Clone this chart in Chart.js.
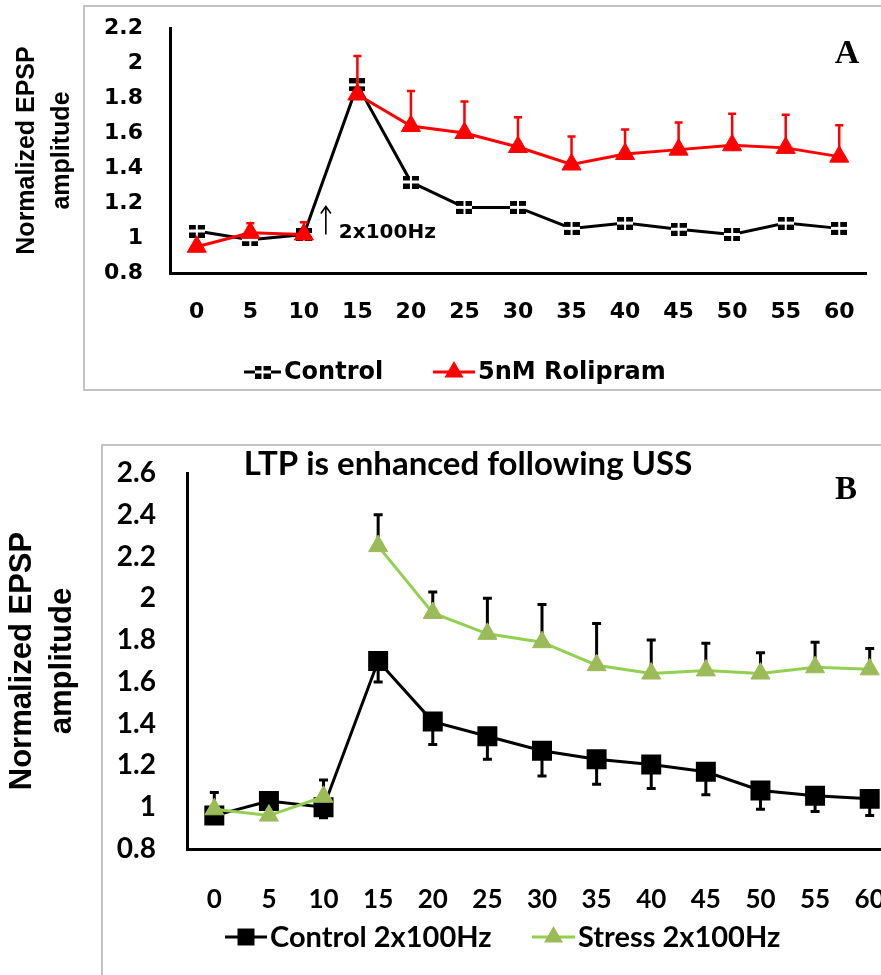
<!DOCTYPE html>
<html>
<head>
<meta charset="utf-8">
<script src="https://cdn.jsdelivr.net/npm/chart.js@4.4.1/dist/chart.umd.min.js"></script>
<style>
	html, body { margin: 0; padding: 0; background: #fff; overflow: hidden; }
	#page { position: relative; width: 881px; height: 975px; overflow: hidden; }
	.box { position: absolute; border: 2px solid #c3c3c3; }
	#boxA { left: 83px; top: 5px; width: 900px; height: 382px; }
	#boxB { left: 101px; top: 444px; width: 900px; height: 600px; }
	#wrapA { position: absolute; left: 0; top: 0; width: 881px; height: 392px; }
	#wrapB { position: absolute; left: 0; top: 445px; width: 936px; height: 530px; }
	canvas { display: block; }
</style>
</head>
<body>
<div id="page">
	<div class="box" id="boxA"></div>
	<div class="box" id="boxB"></div>
	<div id="wrapA"><canvas id="chartA" width="881" height="392"></canvas></div>
	<div id="wrapB"><canvas id="chartB" width="936" height="530"></canvas></div>
</div>
<script>
// time after start (min)
var timeLabels = ['0', '5', '10', '15', '20', '25', '30', '35', '40', '45', '50', '55', '60'];
// 2x100Hz given after this point: treated series are not joined across it
var stimIndex = 2;

// panel A
var controlA = [1.04, 0.99, 1.02, 1.875, 1.32, 1.175, 1.175, 1.055, 1.085, 1.05, 1.02, 1.085, 1.055];
var rolipramA = [0.95, 1.03, 1.02, 1.82, 1.64, 1.60, 1.52, 1.42, 1.48, 1.505, 1.53, 1.515, 1.465];
var rolipramErrA = [0, 0.055, 0.07, 0.22, 0.20, 0.18, 0.17, 0.16, 0.14, 0.155, 0.18, 0.19, 0.18];
var yTicksA = ['0.8', '1', '1.2', '1.4', '1.6', '1.8', '2', '2.2'];

// panel B
var controlB = [0.96, 1.03, 1.00, 1.70, 1.41, 1.34, 1.27, 1.23, 1.205, 1.17, 1.08, 1.055, 1.04];
var controlErrB = [0, 0, 0.05, 0.10, 0.11, 0.11, 0.12, 0.12, 0.115, 0.11, 0.09, 0.075, 0.08];
var stressB = [0.99, 0.96, 1.05, 2.25, 1.93, 1.83, 1.79, 1.68, 1.64, 1.655, 1.64, 1.67, 1.66];
var stressErrB = [0.08, 0, 0.08, 0.15, 0.10, 0.17, 0.18, 0.20, 0.16, 0.13, 0.10, 0.12, 0.10];
var yTicksB = ['0.8', '1', '1.2', '1.4', '1.6', '1.8', '2', '2.2', '2.4', '2.6'];

var FONT_A = 'DejaVu Sans';
var FONT_B = 'Lato';

// excel style "dashed square" marker
function makeDashedSquare() {
	var c = document.createElement('canvas');
	c.width = 16;
	c.height = 13;
	var g = c.getContext('2d');
	g.fillStyle = '#fff';
	g.fillRect(0, 0, 16, 13);
	g.fillStyle = '#000';
	g.fillRect(0, 0, 7, 5);
	g.fillRect(9, 0, 7, 5);
	g.fillRect(0, 8, 7, 5);
	g.fillRect(9, 8, 7, 5);
	return c;
}
var dashedSquare = makeDashedSquare();

function gapAfterStim(c) {
	return c.p0DataIndex === stimIndex ? 'rgba(0,0,0,0)' : undefined;
}

function drawTriangle(ctx, x, y, r, color) {
	var s = Math.sin(Math.PI / 3) * r;
	ctx.fillStyle = color;
	ctx.beginPath();
	ctx.moveTo(x, y - r);
	ctx.lineTo(x + s, y + r / 2);
	ctx.lineTo(x - s, y + r / 2);
	ctx.closePath();
	ctx.fill();
}

function drawMarker(ctx, ds, x, y) {
	if (ds.pointStyle === 'triangle') {
		drawTriangle(ctx, x, y, ds.pointRadius, ds.pointBackgroundColor);
	} else if (ds.pointStyle === 'rect') {
		var h = Math.SQRT1_2 * ds.pointRadius;
		ctx.fillStyle = ds.pointBackgroundColor;
		ctx.fillRect(x - h, y - h, 2 * h, 2 * h);
	} else {
		var img = ds.pointStyle;
		ctx.drawImage(img, x - img.width / 2, y - img.height / 2);
	}
}

// error bars, drawn just before their own dataset
var errorBars = {
	id: 'errorBars',
	beforeDatasetDraw: function(chart, args) {
		var ds = chart.data.datasets[args.index];
		if (!ds.errors) return;
		var ctx = chart.ctx;
		var yScale = chart.scales.y;
		ctx.save();
		ctx.strokeStyle = ds.errorColor;
		ctx.lineWidth = ds.errorWidth;
		args.meta.data.forEach(function(pt, i) {
			var err = ds.errors[i];
			if (!err) return;
			var y0 = yScale.getPixelForValue(ds.data[i]);
			var y1 = yScale.getPixelForValue(ds.data[i] + ds.errorDir * err);
			ctx.beginPath();
			ctx.moveTo(pt.x, y0);
			ctx.lineTo(pt.x, y1);
			ctx.moveTo(pt.x - ds.capHalf, y1);
			ctx.lineTo(pt.x + ds.capHalf, y1);
			ctx.stroke();
		});
		ctx.restore();
	}
};

// legend: line with marker, then label
function legendPlugin(items, font, y) {
	return {
		id: 'lineLegend',
		afterDraw: function(chart) {
			var ctx = chart.ctx;
			ctx.save();
			items.forEach(function(item) {
				var ds = chart.data.datasets[item.index];
				ctx.strokeStyle = ds.borderColor;
				ctx.lineWidth = ds.borderWidth;
				ctx.beginPath();
				ctx.moveTo(item.x0, y);
				ctx.lineTo(item.x1, y);
				ctx.stroke();
				drawMarker(ctx, ds, (item.x0 + item.x1) / 2, y);
				ctx.fillStyle = '#000';
				ctx.font = font;
				ctx.textBaseline = 'middle';
				ctx.textAlign = 'left';
				ctx.fillText(ds.label, item.x1 + 3, y + 1);
			});
			ctx.restore();
		}
	};
}

function baseScales(opts) {
	return {
		x: {
			type: 'category',
			offset: true,
			grid: { display: false, drawTicks: false },
			border: { display: true, color: '#000', width: 3 },
			ticks: {
				color: '#000',
				autoSkip: false,
				maxRotation: 0,
				padding: opts.xPad,
				font: opts.xFont
			},
			afterFit: function(s) {
				s.height = opts.xHeight;
				s.paddingLeft = 0;
				s.paddingRight = 0;
			}
		},
		y: {
			min: 0.8,
			max: opts.yMax,
			grid: { display: false, drawTicks: false },
			border: { display: true, color: '#000', width: 3 },
			ticks: {
				stepSize: 0.2,
				color: '#000',
				padding: opts.yPad,
				font: opts.yFont,
				callback: function(v, i) { return opts.yLabels[i]; }
			},
			title: {
				display: true,
				text: ['Normalized EPSP', 'amplitude'],
				color: '#000',
				font: opts.titleFont,
				padding: { top: opts.titlePad, bottom: 0 }
			},
			afterFit: function(s) {
				s.width = opts.yWidth;
				s.paddingTop = 0;
				s.paddingBottom = 0;
			}
		}
	};
}

var panelA = {
	id: 'panelA',
	afterDraw: function(chart) {
		var ctx = chart.ctx;
		var x = chart.scales.x.getPixelForValue(stimIndex) + 22;
		var yScale = chart.scales.y;
		var yTop = yScale.getPixelForValue(1.18);
		var yBot = yScale.getPixelForValue(1.02);
		ctx.save();
		ctx.strokeStyle = '#000';
		ctx.lineWidth = 1.6;
		ctx.beginPath();
		ctx.moveTo(x, yBot);
		ctx.lineTo(x, yTop);
		ctx.moveTo(x - 5, yTop + 7);
		ctx.lineTo(x, yTop);
		ctx.lineTo(x + 5, yTop + 7);
		ctx.stroke();
		ctx.fillStyle = '#000';
		ctx.textBaseline = 'middle';
		ctx.font = 'bold 20px "' + FONT_A + '"';
		ctx.fillText('2x100Hz', x + 13, yScale.getPixelForValue(1.03));
		ctx.font = 'bold 34px "Liberation Serif"';
		ctx.textAlign = 'center';
		ctx.fillText('A', 847, 54);
		ctx.restore();
	}
};

var panelB = {
	id: 'panelB',
	afterDraw: function(chart) {
		var ctx = chart.ctx;
		ctx.save();
		ctx.fillStyle = '#000';
		ctx.textBaseline = 'middle';
		ctx.textAlign = 'center';
		ctx.font = 'bold 33px "' + FONT_B + '"';
		ctx.fillText('LTP is enhanced following USS', 468, 19);
		ctx.font = 'bold 33px "Liberation Serif"';
		ctx.fillText('B', 846, 45);
		ctx.restore();
	}
};

var chartA = new Chart(document.getElementById('chartA'), {
	type: 'line',
	data: {
		labels: timeLabels,
		datasets: [{
			label: 'Control',
			data: controlA,
			order: 1,
			borderColor: '#000',
			borderWidth: 3,
			pointStyle: dashedSquare,
			pointRadius: 8,
			pointBackgroundColor: '#000',
			tension: 0
		}, {
			label: '5nM Rolipram',
			data: rolipramA,
			order: 0,
			borderColor: '#ff0000',
			borderWidth: 3,
			segment: { borderColor: gapAfterStim },
			pointStyle: 'triangle',
			pointRadius: 11,
			pointBackgroundColor: '#ff0000',
			pointBorderColor: '#ff0000',
			pointBorderWidth: 1,
			tension: 0,
			errors: rolipramErrA,
			errorDir: 1,
			errorColor: '#ff0000',
			errorWidth: 2.5,
			capHalf: 4
		}]
	},
	options: {
		responsive: false,
		animation: false,
		events: [],
		layout: { padding: { top: 28, left: 0, right: 15, bottom: 0 } },
		plugins: { legend: { display: false }, tooltip: { enabled: false } },
		scales: baseScales({
			yMax: 2.2,
			yLabels: yTicksA,
			xPad: 26,
			xHeight: 119,
			yPad: 27,
			yWidth: 170,
			titlePad: 10,
			xFont: { family: FONT_A, size: 22, weight: 'bold' },
			yFont: { family: FONT_A, size: 22, weight: 'bold' },
			titleFont: { family: 'Liberation Sans', size: 25, weight: 'bold', lineHeight: 1.4 }
		})
	},
	plugins: [errorBars, panelA, legendPlugin([
		{ index: 0, x0: 244, x1: 281 },
		{ index: 1, x0: 433, x1: 475 }
	], 'bold 24px "' + FONT_A + '"', 372)]
});

var chartB = new Chart(document.getElementById('chartB'), {
	type: 'line',
	data: {
		labels: timeLabels,
		datasets: [{
			label: 'Control 2x100Hz',
			data: controlB,
			order: 1,
			borderColor: '#000',
			borderWidth: 3,
			pointStyle: 'rect',
			pointRadius: 12,
			pointBackgroundColor: '#000',
			pointBorderColor: '#000',
			tension: 0,
			errors: controlErrB,
			errorDir: -1,
			errorColor: '#000',
			errorWidth: 3,
			capHalf: 4.5
		}, {
			label: 'Stress 2x100Hz',
			data: stressB,
			order: 0,
			borderColor: '#92d050',
			borderWidth: 3,
			segment: { borderColor: gapAfterStim },
			pointStyle: 'triangle',
			pointRadius: 11,
			pointBackgroundColor: '#9bbb59',
			pointBorderColor: '#9bbb59',
			pointBorderWidth: 1,
			tension: 0,
			errors: stressErrB,
			errorDir: 1,
			errorColor: '#000',
			errorWidth: 3,
			capHalf: 4.5
		}]
	},
	options: {
		responsive: false,
		animation: false,
		events: [],
		layout: { padding: { top: 28, left: 0, right: 39, bottom: 0 } },
		plugins: { legend: { display: false }, tooltip: { enabled: false } },
		scales: baseScales({
			yMax: 2.6,
			yLabels: yTicksB,
			xPad: 35,
			xHeight: 126,
			yPad: 31,
			yWidth: 187,
			titlePad: 2,
			xFont: { family: FONT_B, size: 26, weight: 'bold' },
			yFont: { family: FONT_B, size: 28, weight: 'bold' },
			titleFont: { family: 'Liberation Sans', size: 31, weight: 'bold', lineHeight: 1.29 }
		})
	},
	plugins: [errorBars, panelB, legendPlugin([
		{ index: 0, x0: 225, x1: 267 },
		{ index: 1, x0: 532, x1: 575 }
	], 'bold 29px "' + FONT_B + '"', 492)]
});
</script>
</body>
</html>
